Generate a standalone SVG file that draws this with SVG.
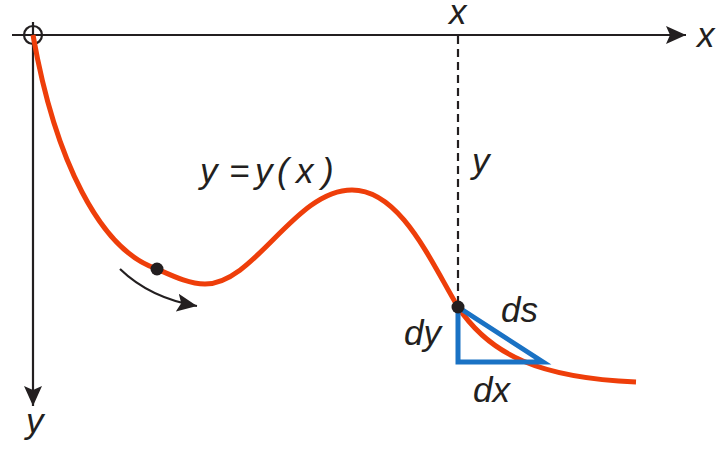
<svg xmlns="http://www.w3.org/2000/svg" width="726" height="453" viewBox="0 0 726 453">
<style>
.ax{stroke:#231f20;stroke-width:2.2;fill:none}
.lbl{font-family:"Liberation Sans",Arial,sans-serif;font-style:italic;font-size:35px;fill:#231f20}
.curve{stroke:#ee3e0a;stroke-width:5;fill:none;stroke-linecap:butt}
.dot{fill:#231f20}
</style>
<defs>
<marker id="ah" markerWidth="20" markerHeight="18" refX="20" refY="9" orient="auto" markerUnits="userSpaceOnUse">
<path d="M0,0 L20,9 L0,18 L4,9 Z" fill="#231f20"/>
</marker>
</defs>
<rect width="726" height="453" fill="#fff"/>
<g id="connectors">
<line id="xaxis" class="ax" x1="12" y1="35" x2="686" y2="35" marker-end="url(#ah)"/>
<line id="yaxis" class="ax" x1="33" y1="22" x2="33" y2="406" marker-end="url(#ah)"/>
<circle class="ax" cx="33" cy="35" r="9"/>
<line class="ax" x1="458" y1="36" x2="458" y2="305" stroke-dasharray="8,5"/>
<path class="ax" d="M120,269 Q150,298 197,306" marker-end="url(#ah)"/>
</g>
<g id="curve">
<path class="curve" d="M33,35 C55,160 100,250 157,269 C175,277 190,284 205,284 C255,284 295,190 352,190 C400,190 430,260 458,307 C490,355 540,378 636,382"/>
</g>
<g id="triangle">
<path d="M458,307 L458,362 L543,362 Z" fill="none" stroke="#1a72c4" stroke-width="5" stroke-linejoin="miter"/>
</g>
<g id="points">
<circle class="dot" cx="157" cy="269" r="6.5"/>
<circle class="dot" cx="458" cy="307" r="6.5"/>
</g>
<g id="labels">
<text class="lbl" x="449" y="24">x</text>
<text class="lbl" x="697" y="47">x</text>
<text class="lbl" x="26" y="433">y</text>
<text class="lbl" x="472" y="173">y</text>
<text class="lbl" y="183"><tspan x="200">y</tspan><tspan x="229">=</tspan><tspan x="255">y</tspan><tspan x="277">(</tspan><tspan x="296">x</tspan><tspan x="322">)</tspan></text>
<text class="lbl" x="404" y="345">dy</text>
<text class="lbl" x="501" y="322">ds</text>
<text class="lbl" x="473" y="402">dx</text>
</g>
</svg>
